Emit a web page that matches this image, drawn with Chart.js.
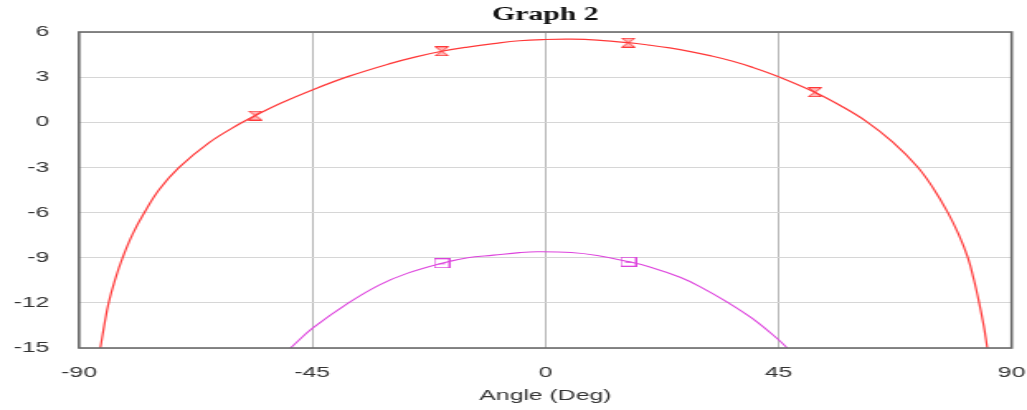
<!DOCTYPE html>
<html>
<head>
<meta charset="utf-8">
<title>Graph 2</title>
<script src="https://cdn.jsdelivr.net/npm/chart.js@4.4.1/dist/chart.umd.min.js"></script>
<style>
  html, body { margin: 0; padding: 0; background: #ffffff; overflow: hidden; }
  canvas { display: block; }
</style>
</head>
<body>
<!-- drawn on a narrower canvas and widened by CSS, giving the wide lettering -->
<canvas id="chart" width="622" height="410" style="width:1027px;height:410px"></canvas>
<script>
// Radiation pattern, gain in dB against angle in degrees
const redAngle = [-85.9, -85.1, -84.3, -83.1, -81.6, -79.7, -77.4, -74.5, -70.7, -64.9, -59, -56, -51, -45, -38, -30, -25, -20, -15, -10, -5, 0, 5, 10, 16, 20, 24, 28, 32, 36, 40, 45, 52, 57, 62, 67, 71.8, 74.8, 77.6, 79.7, 81.5, 82.7, 83.7, 84.6, 85.3];
const redGain  = [-15, -13.4, -12, -10.5, -9, -7.45, -6, -4.45, -3, -1.35, -0.1, 0.45, 1.28, 2.15, 3.05, 3.9, 4.35, 4.72, 5.0, 5.23, 5.42, 5.5, 5.52, 5.46, 5.29, 5.13, 4.94, 4.7, 4.41, 4.07, 3.65, 3.03, 2.0, 1.1, 0.05, -1.3, -2.95, -4.35, -5.95, -7.4, -8.95, -10.45, -11.95, -13.5, -15];

const magAngle = [-49.2, -45, -38, -32, -26.7, -20, -15, -10, -5, -1.6, 5, 10, 16, 20, 26, 30, 35.1, 40, 45, 46.7];
const magGain  = [-15, -13.7, -12, -10.8, -10.04, -9.37, -9.0, -8.83, -8.66, -8.6, -8.65, -8.85, -9.26, -9.6, -10.3, -10.95, -11.95, -13.05, -14.45, -15];

// Marked samples on each trace
const redMarkAngle = [-56, -20, 16, 52];
const redMarkGain  = [0.45, 4.72, 5.29, 2.0];
const magMarkAngle = [-20, 16];
const magMarkGain  = [-9.37, -9.26];

// Axis ticks
const xTicks = [-90, -45, 0, 45, 90];
const yTicks = [-15, -12, -9, -6, -3, 0, 3, 6];

const RED = '#ff3838';
const MAG = '#dd44dd';

function pts(xs, ys) { return xs.map((x, i) => ({ x: x, y: ys[i] })); }

// Hourglass marker
function hourglass() {
  const c = document.createElement('canvas');
  c.width = 9; c.height = 10;
  const g = c.getContext('2d');
  g.beginPath();
  g.moveTo(0.5, 0.5); g.lineTo(8.5, 0.5); g.lineTo(0.5, 9.5); g.lineTo(8.5, 9.5); g.closePath();
  g.fillStyle = 'rgba(255,80,80,0.4)';
  g.fill();
  g.strokeStyle = RED; g.lineWidth = 1;
  g.stroke();
  return c;
}
// Open square marker
function openSquare() {
  const c = document.createElement('canvas');
  c.width = 10; c.height = 10;
  const g = c.getContext('2d');
  g.strokeStyle = MAG; g.lineWidth = 1;
  g.strokeRect(0.5, 0.5, 9, 9);
  g.beginPath(); g.moveTo(3, 5.5); g.lineTo(7, 5.5); g.stroke();
  return c;
}

const frame = {
  id: 'frame',
  afterDatasetsDraw(chart) {
    const a = chart.chartArea, ctx = chart.ctx;
    ctx.save();
    ctx.strokeStyle = '#6a6a6a';
    ctx.lineWidth = 1.6;
    ctx.strokeRect(a.left, a.top, a.right - a.left, a.bottom - a.top);
    ctx.restore();
  }
};

const tickFont = { family: "'Liberation Sans', Arial, sans-serif", size: 15 };

new Chart(document.getElementById('chart'), {
  type: 'line',
  data: {
    datasets: [
      { data: pts(redAngle, redGain), borderColor: RED, borderWidth: 1.2, pointRadius: 0,
        tension: 0.4, fill: false },
      { data: pts(magAngle, magGain), borderColor: MAG, borderWidth: 1.1, pointRadius: 0,
        tension: 0.4, fill: false },
      { data: pts(redMarkAngle, redMarkGain), showLine: false, pointStyle: hourglass(), pointRadius: 5 },
      { data: pts(magMarkAngle, magMarkGain), showLine: false, pointStyle: openSquare(), pointRadius: 5 }
    ]
  },
  options: {
    responsive: false,
    animation: false,
    devicePixelRatio: 1,
    layout: { padding: { left: 0, right: 9.3, top: 0, bottom: 0 } },
    plugins: {
      legend: { display: false },
      tooltip: { enabled: false },
      title: {
        display: true, text: 'Graph 2', fullSize: false, color: '#111',
        font: { family: "'Liberation Serif', 'Times New Roman', serif", size: 18, weight: 'bold', lineHeight: 1.2 },
        padding: { top: 4.5, bottom: 5.9 }
      }
    },
    scales: {
      x: {
        type: 'linear', min: -90, max: 90,
        afterBuildTicks: s => { s.ticks = xTicks.map(v => ({ value: v })); },
        afterFit: s => { s.height = 62; s.paddingLeft = 0; s.paddingRight = 0; },
        ticks: { color: '#333', font: tickFont, padding: 16, maxRotation: 0 },
        grid: { color: '#b8b8b8', lineWidth: 1, drawTicks: false },
        border: { display: false },
        title: { display: true, text: 'Angle (Deg)', color: '#333',
                 font: { family: "'Liberation Sans', Arial, sans-serif", size: 15 },
                 padding: { top: 0, bottom: 5 } }
      },
      y: {
        min: -15, max: 6,
        afterBuildTicks: s => { s.ticks = yTicks.map(v => ({ value: v })); },
        afterFit: s => { s.width = 47.9; s.paddingTop = 0; s.paddingBottom = 0; },
        ticks: { color: '#333', font: tickFont, padding: 18 },
        grid: { color: '#d6d6d6', lineWidth: 1, drawTicks: false },
        border: { display: false }
      }
    }
  },
  plugins: [frame]
});
</script>
</body>
</html>
